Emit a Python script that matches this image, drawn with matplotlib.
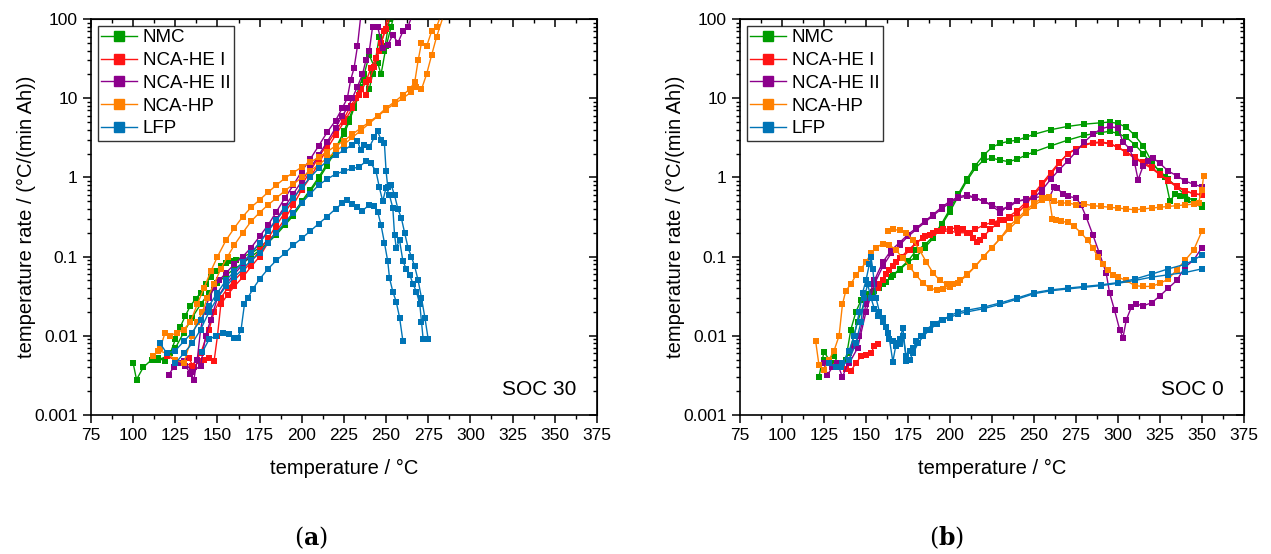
import matplotlib
matplotlib.use("Agg")
import matplotlib.pyplot as plt
from matplotlib.ticker import MultipleLocator, LogLocator, NullFormatter, FixedLocator

plt.rcParams['font.family'] = ['Liberation Sans', 'DejaVu Sans']
plt.rcParams['mathtext.fontset'] = 'dejavuserif'

names = ["NMC", "NCA-HE I", "NCA-HE II", "NCA-HP", "LFP"]
colors = ["#009c00", "#ff1414", "#8c008c", "#ff8000", "#0074b6"]

# ---- (a) SOC 30 ----
a_nmc1_t = [100, 102, 106, 111, 115, 119, 122, 125, 128, 131, 134, 137, 140, 143, 146, 149, 152, 155, 158, 161, 165, 170, 175, 180, 185, 190, 195, 200, 205, 210, 215, 220, 225, 228, 231, 234, 237, 240, 243, 246, 249, 252, 254]
a_nmc1_r = [0.0045, 0.0028, 0.004, 0.005, 0.0052, 0.0048, 0.006, 0.009, 0.013, 0.018, 0.024, 0.029, 0.035, 0.045, 0.056, 0.066, 0.076, 0.083, 0.088, 0.09, 0.1, 0.11, 0.13, 0.16, 0.2, 0.26, 0.35, 0.5, 0.7, 1.0, 1.5, 2.3, 3.8, 5.5, 8, 14, 20, 35, 25, 60, 40, 100, 130]
a_nmc2_t = [115, 120, 125, 130, 135, 140, 145, 150, 155, 160, 165, 170, 175, 180, 185, 190, 195, 200, 205, 210, 215, 220, 225, 228, 231, 234, 237, 240, 242, 245, 247, 250, 253, 255]
a_nmc2_r = [0.005, 0.0055, 0.007, 0.011, 0.017, 0.025, 0.035, 0.046, 0.058, 0.07, 0.082, 0.1, 0.12, 0.15, 0.19, 0.25, 0.33, 0.47, 0.66, 0.95, 1.4, 2.2, 3.5, 5, 7.5, 11, 17, 13, 20, 28, 20, 45, 80, 120]
a_he1_1_t = [126, 130, 133, 136, 139, 142, 145, 148, 150, 152, 156, 160, 165, 170, 175, 180, 185, 190, 195, 200, 205, 210, 215, 220, 225, 230, 234, 238, 241, 244, 247, 250, 253]
a_he1_1_r = [0.0045, 0.0045, 0.0052, 0.004, 0.0048, 0.005, 0.0053, 0.0048, 0.01, 0.025, 0.033, 0.042, 0.055, 0.075, 0.1, 0.15, 0.21, 0.3, 0.45, 0.7, 1.0, 1.5, 2.3, 3.4, 5, 7.5, 11, 16, 24, 32, 50, 75, 120]
a_he1_2_t = [120, 125, 130, 135, 140, 145, 148, 152, 156, 160, 165, 170, 175, 180, 185, 190, 195, 200, 205, 210, 215, 220, 225, 229, 232, 235, 238, 240, 243, 246, 249, 251]
a_he1_2_r = [0.0055, 0.005, 0.0045, 0.0042, 0.006, 0.012, 0.02, 0.03, 0.04, 0.05, 0.065, 0.085, 0.12, 0.17, 0.25, 0.36, 0.52, 0.8, 1.2, 1.8, 2.6, 3.8, 5.5, 8, 10, 13, 11, 17, 25, 40, 70, 110]
a_he2_1_t = [121, 124, 128, 131, 134, 136, 138, 140, 142, 145, 148, 151, 155, 160, 165, 170, 175, 180, 185, 190, 195, 200, 205, 210, 215, 220, 224, 227, 229, 231, 233, 235]
a_he2_1_r = [0.0032, 0.004, 0.0045, 0.0042, 0.0033, 0.0028, 0.005, 0.012, 0.02, 0.03, 0.04, 0.05, 0.062, 0.08, 0.1, 0.13, 0.18, 0.25, 0.37, 0.55, 0.8, 1.2, 1.7, 2.5, 3.7, 5.2, 7.5, 10, 17, 24, 45, 110]
a_he2_2_t = [125, 130, 135, 140, 143, 146, 150, 155, 160, 165, 170, 175, 180, 185, 190, 195, 200, 205, 210, 215, 220, 224, 227, 230, 233, 236, 238, 240, 242, 245, 248, 251, 254, 257, 260, 263, 266]
a_he2_2_r = [0.0045, 0.0048, 0.0035, 0.0042, 0.01, 0.016, 0.03, 0.045, 0.06, 0.08, 0.11, 0.15, 0.21, 0.3, 0.43, 0.62, 0.9, 1.3, 1.9, 2.8, 4.2, 6, 7.5, 10, 14, 20, 30, 39, 80, 80, 43, 47, 63, 50, 70, 80, 120]
a_hp1_t = [112, 116, 119, 122, 126, 130, 134, 138, 142, 146, 150, 155, 160, 165, 170, 175, 180, 185, 190, 195, 200, 205, 210, 215, 220, 225, 230, 235, 240, 245, 250, 255, 260, 264, 267, 269, 271, 274, 277, 280, 283]
a_hp1_r = [0.0055, 0.007, 0.011, 0.01, 0.011, 0.012, 0.015, 0.025, 0.04, 0.065, 0.1, 0.16, 0.23, 0.32, 0.42, 0.52, 0.65, 0.8, 0.98, 1.15, 1.35, 1.55, 1.8, 2.1, 2.5, 2.9, 3.5, 4.2, 5, 6, 7.5, 9, 11, 13, 16, 30, 50, 45, 70, 80, 120]
a_hp2_t = [115, 120, 125, 130, 135, 138, 141, 144, 148, 152, 156, 160, 165, 170, 175, 180, 185, 190, 195, 200, 205, 210, 215, 220, 225, 230, 235, 240, 245, 250, 255, 260, 265, 268, 271, 274, 277, 280, 284]
a_hp2_r = [0.0065, 0.006, 0.005, 0.0045, 0.01, 0.015, 0.02, 0.03, 0.045, 0.07, 0.1, 0.14, 0.2, 0.28, 0.36, 0.45, 0.55, 0.68, 0.82, 1.0, 1.2, 1.45, 1.75, 2.1, 2.6, 3.2, 3.9, 4.8, 5.9, 7.2, 8.5, 10, 12, 14, 13, 20, 35, 60, 110]
a_lfp1_t = [116, 120, 125, 130, 135, 140, 145, 150, 155, 160, 165, 170, 175, 180, 185, 190, 195, 200, 205, 210, 215, 220, 225, 230, 233, 235, 237, 240, 243, 245, 247, 249, 250, 251, 253, 255, 257, 259, 261, 263, 265, 267, 269, 271, 273, 275]
a_lfp1_r = [0.008, 0.006, 0.0065, 0.0085, 0.011, 0.016, 0.024, 0.035, 0.05, 0.065, 0.085, 0.11, 0.15, 0.21, 0.29, 0.4, 0.55, 0.75, 1.0, 1.3, 1.6, 1.9, 2.2, 2.6, 2.9, 2.2, 2.6, 2.4, 3.2, 3.8, 3.0, 2.7, 1.2, 0.75, 0.8, 0.6, 0.4, 0.31, 0.2, 0.13, 0.1, 0.075, 0.05, 0.03, 0.017, 0.009]
a_lfp2_t = [125, 130, 135, 140, 145, 150, 155, 160, 165, 170, 175, 180, 185, 190, 195, 200, 205, 210, 215, 220, 225, 230, 234, 238, 241, 244, 246, 248, 250, 252, 254, 255, 256, 258, 260, 262, 264, 266, 268, 270, 271, 272]
a_lfp2_r = [0.0045, 0.006, 0.008, 0.012, 0.02, 0.03, 0.042, 0.055, 0.07, 0.09, 0.11, 0.15, 0.2, 0.27, 0.36, 0.48, 0.62, 0.8, 0.95, 1.1, 1.2, 1.3, 1.35, 1.6, 1.5, 1.2, 0.75, 0.5, 0.74, 0.6, 0.41, 0.19, 0.13, 0.16, 0.087, 0.07, 0.059, 0.045, 0.036, 0.025, 0.015, 0.009]
a_lfp3_t = [141, 145, 149, 153, 157, 160, 162, 164, 166, 168, 171, 175, 180, 185, 190, 195, 200, 205, 210, 215, 220, 224, 227, 230, 233, 236, 240, 243, 245, 247, 249, 251, 252, 254, 256, 258, 260]
a_lfp3_r = [0.0062, 0.009, 0.01, 0.011, 0.0105, 0.0095, 0.0095, 0.012, 0.025, 0.03, 0.039, 0.052, 0.07, 0.09, 0.11, 0.14, 0.17, 0.21, 0.26, 0.32, 0.4, 0.47, 0.52, 0.46, 0.42, 0.38, 0.45, 0.43, 0.37, 0.25, 0.15, 0.087, 0.054, 0.036, 0.027, 0.017, 0.0085]

# ---- (b) SOC 0 ----
b_nmc1_t = [122, 125, 128, 131, 135, 138, 141, 144, 147, 150, 154, 158, 162, 166, 170, 175, 180, 185, 190, 195, 200, 205, 210, 215, 220, 225, 230, 235, 240, 245, 250, 260, 270, 280, 290, 295, 300, 305, 310, 315, 320, 325, 328, 331, 334, 337, 341, 345, 350]
b_nmc1_r = [0.003, 0.0063, 0.005, 0.0055, 0.004, 0.005, 0.012, 0.02, 0.028, 0.034, 0.036, 0.04, 0.048, 0.058, 0.07, 0.088, 0.12, 0.14, 0.18, 0.26, 0.4, 0.62, 0.95, 1.4, 1.9, 2.4, 2.7, 2.85, 2.95, 3.2, 3.5, 4.0, 4.4, 4.7, 4.9, 5.0, 4.8, 4.3, 3.4, 2.5, 1.6, 1.15, 1.0, 0.5, 0.62, 0.58, 0.52, 0.47, 0.42]
b_nmc2_t = [125, 130, 135, 140, 145, 150, 155, 160, 165, 170, 175, 180, 185, 190, 195, 200, 205, 210, 215, 220, 225, 230, 235, 240, 245, 250, 260, 270, 280, 290, 295, 300, 305, 310, 315, 320, 325, 330, 335, 340, 345, 350]
b_nmc2_r = [0.005, 0.0045, 0.0042, 0.006, 0.015, 0.03, 0.037, 0.045, 0.055, 0.068, 0.085, 0.1, 0.13, 0.17, 0.25, 0.37, 0.58, 0.9, 1.3, 1.65, 1.75, 1.65, 1.58, 1.7, 1.9, 2.1, 2.5, 2.95, 3.4, 3.7, 3.8, 3.6, 3.2, 2.6, 2.0, 1.5, 1.2, 0.95, 0.75, 0.6, 0.5, 0.45]
b_he1_0_t = [132, 135, 138, 141, 144, 147, 150, 153, 155, 157]
b_he1_0_r = [0.0042, 0.0045, 0.0038, 0.0036, 0.0045, 0.0055, 0.0057, 0.006, 0.0075, 0.0078]
b_he1_1_t = [157, 160, 164, 168, 172, 176, 180, 184, 188, 192, 196, 200, 204, 208, 212, 214, 216, 218, 220, 224, 228, 232, 236, 240, 245, 250, 255, 260, 265, 270, 275, 280, 285, 290, 295, 300, 305, 310, 315, 320, 325, 330, 335, 340, 345, 350]
b_he1_1_r = [0.04, 0.05, 0.068, 0.085, 0.1, 0.12, 0.15, 0.17, 0.19, 0.21, 0.22, 0.225, 0.23, 0.22, 0.2, 0.17, 0.155, 0.16, 0.18, 0.22, 0.26, 0.29, 0.31, 0.35, 0.45, 0.6, 0.8, 1.1, 1.5, 2.0, 2.3, 2.6, 2.75, 2.8, 2.7, 2.4, 2.1, 1.8, 1.55, 1.35, 1.1, 0.92, 0.78, 0.68, 0.62, 0.6]
b_he1_2_t = [158, 162, 166, 170, 175, 180, 185, 190, 195, 200, 205, 210, 215, 220, 225, 230, 235, 240, 245, 250, 255, 260, 265, 270, 275, 280, 285, 290, 295, 300, 305, 310, 315, 320, 325, 330, 335, 340, 345, 350]
b_he1_2_r = [0.045, 0.06, 0.075, 0.095, 0.12, 0.15, 0.18, 0.2, 0.21, 0.21, 0.2, 0.2, 0.22, 0.25, 0.27, 0.29, 0.32, 0.38, 0.48, 0.63, 0.85, 1.15, 1.55, 1.95, 2.3, 2.55, 2.7, 2.75, 2.65, 2.4, 2.05, 1.75, 1.5, 1.3, 1.08, 0.9, 0.76, 0.67, 0.63, 0.6]
b_he2_1_t = [125, 127, 130, 133, 136, 140, 143, 146, 150, 155, 160, 165, 170, 175, 180, 185, 190, 195, 200, 205, 210, 215, 220, 225, 230, 235, 240, 245, 250, 255, 260, 265, 270, 275, 280, 285, 290, 295, 300, 303, 307, 310, 312, 315, 318, 321, 325, 330, 335, 340, 345, 350]
b_he2_1_r = [0.0045, 0.0032, 0.004, 0.0045, 0.003, 0.005, 0.0075, 0.01, 0.025, 0.05, 0.085, 0.12, 0.15, 0.19, 0.23, 0.28, 0.34, 0.42, 0.5, 0.57, 0.6, 0.56, 0.5, 0.44, 0.36, 0.45, 0.5, 0.52, 0.55, 0.7, 0.95, 1.25, 1.6, 2.1, 2.8, 3.5, 4.1, 4.4, 4.2, 2.8, 2.3, 1.5, 0.93, 1.4, 1.6, 1.75, 1.5, 1.2, 1.05, 0.9, 0.82, 0.76]
b_he2_2_t = [140, 145, 150, 155, 160, 165, 170, 175, 180, 185, 190, 195, 200, 205, 210, 215, 220, 225, 230, 235, 240, 245, 250, 255, 259, 262, 264, 267, 270, 275, 278, 281, 285, 289, 293, 295, 298, 301, 303, 305, 308, 311, 315, 320, 325, 330, 335, 340, 345, 350]
b_he2_2_r = [0.0045, 0.007, 0.02, 0.045, 0.075, 0.11, 0.14, 0.18, 0.22, 0.27, 0.33, 0.4, 0.48, 0.55, 0.58, 0.55, 0.5, 0.45, 0.4, 0.42, 0.5, 0.53, 0.55, 0.58, 0.55, 0.75, 0.73, 0.62, 0.58, 0.55, 0.45, 0.32, 0.19, 0.11, 0.062, 0.035, 0.021, 0.012, 0.0095, 0.016, 0.023, 0.025, 0.024, 0.026, 0.032, 0.04, 0.05, 0.074, 0.09, 0.13]
b_hp1_t = [120, 122, 125, 128, 131, 134, 136, 138, 141, 144, 147, 150, 153, 156, 160, 164, 168, 172, 176, 180, 184, 188, 192, 196, 200, 205, 210, 215, 220, 225, 230, 235, 240, 245, 250, 255, 258, 262, 266, 270, 275, 280, 285, 290, 295, 300, 305, 310, 315, 320, 325, 330, 335, 340, 345, 348, 350, 351]
b_hp1_r = [0.0087, 0.0043, 0.0037, 0.005, 0.0065, 0.01, 0.025, 0.037, 0.045, 0.058, 0.07, 0.085, 0.11, 0.13, 0.145, 0.14, 0.12, 0.095, 0.074, 0.058, 0.046, 0.04, 0.038, 0.039, 0.041, 0.047, 0.058, 0.075, 0.1, 0.13, 0.17, 0.22, 0.28, 0.36, 0.44, 0.52, 0.55, 0.5, 0.47, 0.48, 0.45, 0.46, 0.44, 0.43, 0.42, 0.41, 0.4, 0.39, 0.4, 0.41, 0.42, 0.43, 0.44, 0.45, 0.46, 0.48, 0.7, 1.05]
b_hp2_t = [163, 166, 170, 174, 178, 182, 186, 190, 194, 198, 202, 206, 210, 215, 220, 225, 230, 235, 240, 245, 250, 255, 259, 261, 263, 266, 270, 274, 278, 282, 285, 288, 291, 294, 297, 300, 305, 310, 315, 320, 325, 330, 335, 340, 345, 350]
b_hp2_r = [0.21, 0.22, 0.215, 0.2, 0.16, 0.12, 0.085, 0.062, 0.05, 0.045, 0.045, 0.05, 0.06, 0.075, 0.1, 0.13, 0.17, 0.24, 0.3, 0.38, 0.47, 0.55, 0.57, 0.3, 0.29, 0.28, 0.27, 0.24, 0.2, 0.16, 0.13, 0.1, 0.08, 0.068, 0.058, 0.055, 0.05, 0.043, 0.042, 0.042, 0.046, 0.052, 0.068, 0.09, 0.12, 0.21]
b_lfp1_t = [128, 132, 136, 140, 143, 146, 148, 150, 152, 153, 154, 156, 158, 160, 162, 164, 166, 168, 170, 172, 174, 176, 178, 181, 184, 188, 192, 196, 200, 205, 210, 220, 230, 240, 250, 260, 270, 280, 290, 300, 310, 320, 330, 340, 345, 350]
b_lfp1_r = [0.0045, 0.004, 0.0045, 0.0065, 0.01, 0.02, 0.035, 0.05, 0.08, 0.1, 0.07, 0.03, 0.02, 0.017, 0.013, 0.009, 0.0047, 0.008, 0.009, 0.0125, 0.0048, 0.005, 0.006, 0.008, 0.0098, 0.012, 0.014, 0.016, 0.018, 0.02, 0.021, 0.023, 0.026, 0.03, 0.035, 0.038, 0.04, 0.042, 0.044, 0.047, 0.052, 0.06, 0.07, 0.08, 0.09, 0.105]
b_lfp2_t = [135, 140, 144, 147, 149, 151, 153, 155, 157, 160, 163, 166, 168, 170, 172, 174, 176, 178, 180, 183, 186, 190, 195, 200, 205, 210, 220, 230, 240, 250, 260, 270, 280, 290, 300, 310, 320, 330, 340, 350]
b_lfp2_r = [0.004, 0.005, 0.008, 0.015, 0.03, 0.045, 0.03, 0.022, 0.018, 0.015, 0.011, 0.0085, 0.0075, 0.0078, 0.01, 0.0055, 0.0065, 0.007, 0.0085, 0.01, 0.012, 0.014, 0.016, 0.017, 0.019, 0.02, 0.022, 0.025, 0.029, 0.034, 0.037, 0.039, 0.041, 0.043, 0.046, 0.05, 0.055, 0.059, 0.063, 0.07]

panel_a = [
    (0, a_nmc1_t, a_nmc1_r), (0, a_nmc2_t, a_nmc2_r),
    (1, a_he1_1_t, a_he1_1_r), (1, a_he1_2_t, a_he1_2_r),
    (2, a_he2_1_t, a_he2_1_r), (2, a_he2_2_t, a_he2_2_r),
    (3, a_hp1_t, a_hp1_r), (3, a_hp2_t, a_hp2_r),
    (4, a_lfp1_t, a_lfp1_r), (4, a_lfp2_t, a_lfp2_r), (4, a_lfp3_t, a_lfp3_r),
]
panel_b = [
    (0, b_nmc1_t, b_nmc1_r), (0, b_nmc2_t, b_nmc2_r),
    (1, b_he1_0_t, b_he1_0_r), (1, b_he1_1_t, b_he1_1_r), (1, b_he1_2_t, b_he1_2_r),
    (2, b_he2_1_t, b_he2_1_r), (2, b_he2_2_t, b_he2_2_r),
    (3, b_hp1_t, b_hp1_r), (3, b_hp2_t, b_hp2_r),
    (4, b_lfp1_t, b_lfp1_r), (4, b_lfp2_t, b_lfp2_r),
]


def style_axes(ax, soc_text):
    ax.set_xlim(75, 375)
    ax.set_yscale("log")
    ax.set_ylim(0.001, 100)
    ax.set_xticks(range(75, 376, 25))
    ax.xaxis.set_minor_locator(MultipleLocator(12.5))
    ax.yaxis.set_major_locator(FixedLocator([0.001, 0.01, 0.1, 1, 10, 100]))
    ax.yaxis.set_minor_locator(LogLocator(base=10, subs=range(2, 10)))
    ax.yaxis.set_minor_formatter(NullFormatter())
    ax.set_yticklabels(["0.001", "0.01", "0.1", "1", "10", "100"])
    ax.tick_params(which="major", direction="out", length=6, width=1.1, labelsize=12.5)
    ax.tick_params(which="minor", direction="out", length=3, width=1)
    for s in ax.spines.values():
        s.set_linewidth(1.2)
    top = ax.secondary_xaxis("top")
    top.set_xticks(range(75, 376, 25))
    top.xaxis.set_minor_locator(MultipleLocator(12.5))
    top.tick_params(which="major", direction="in", length=6, width=1.1, labeltop=False)
    top.tick_params(which="minor", direction="in", length=3, width=1)
    right = ax.secondary_yaxis("right")
    right.yaxis.set_major_locator(FixedLocator([0.001, 0.01, 0.1, 1, 10, 100]))
    right.yaxis.set_minor_locator(LogLocator(base=10, subs=range(2, 10)))
    right.tick_params(which="major", direction="in", length=6, width=1.1, labelright=False)
    right.tick_params(which="minor", direction="in", length=3, width=1, labelright=False)
    ax.set_xlabel("temperature / °C", fontsize=14.5, labelpad=11)
    ax.set_ylabel("temperature rate / (°C/(min Ah))", fontsize=14.5, labelpad=-1)
    ax.text(0.96, 0.04, soc_text, transform=ax.transAxes, ha="right", va="bottom", fontsize=15)


fig = plt.figure(figsize=(12.71, 5.54), dpi=100)
ax_a = fig.add_axes([0.0716, 0.2509, 0.398, 0.7148])
ax_b = fig.add_axes([0.5822, 0.2509, 0.3965, 0.7148])

for ax, curves, soc in [(ax_a, panel_a, "SOC 30"), (ax_b, panel_b, "SOC 0")]:
    for idx, t, r in curves:
        ax.plot(t, r, color=colors[idx], lw=1.0, marker="s", ms=4.2, mec=colors[idx], mew=0)
    handles = [ax.plot([], [], color=c, lw=1.0, marker="s", ms=6.5, label=n)[0]
               for n, c in zip(names, colors)]
    leg = ax.legend(handles=handles, loc="upper left", fontsize=13.5, frameon=True,
                    fancybox=False, edgecolor="black", handlelength=1.9, handletextpad=0.3,
                    borderpad=0.2, labelspacing=0.3, borderaxespad=0.35)
    leg.get_frame().set_linewidth(1.0)
    style_axes(ax, soc)

fig.text(0.245, 0.005, r"($\mathbf{a}$)", ha="center", va="bottom", fontsize=17, family="DejaVu Serif")
fig.text(0.745, 0.005, r"($\mathbf{b}$)", ha="center", va="bottom", fontsize=17, family="DejaVu Serif")

fig.savefig("out.png", dpi=100)
